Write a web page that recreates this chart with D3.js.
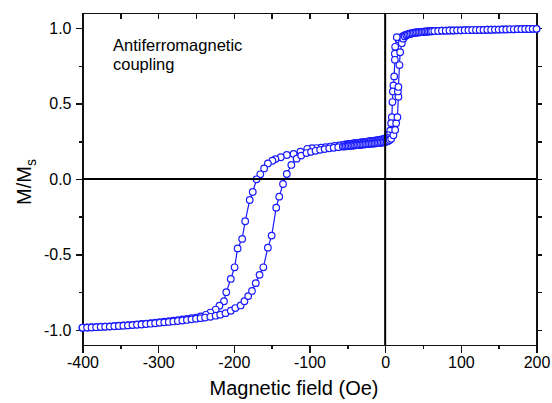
<!DOCTYPE html>
<html>
<head>
<meta charset="utf-8">
<title>AFM coupled hysteresis loop</title>
<script src="https://cdn.jsdelivr.net/npm/d3@7"></script>
<style>
body { margin: 0; background: #fff; }
svg { font-family: Arial, "Liberation Sans", sans-serif; }
.frame path, .frame line { stroke: #111; stroke-width: 1.5px; shape-rendering: crispEdges; }
.tick text { font-size: 16px; fill: #000; }
</style>
</head>
<body>
<script>
// descending branch, +200 Oe -> -400 Oe
var fieldDown = [200,195,190,185,180,175,170,165,160,155,150,145,140,135,130,125,120,115,110,105,100,95,90,85,80,75,70,65,
  62,60,58,56,54,52,50,48,46,44,42,40,38,36,34,32,30,28,26,24,22,20,18,
  15.4,13.2,12.8,12.8,11.9,10.9,10.2,9.6,8.8,7.9,6.6,4,
  2,0,-2,-4,-6,-8,-10,-12,-14,-16,-18,-20,-22,-24,-26,-28,-30,-32,-34,-36,-38,-40,-42,-44,-46,-48,-50,-52,-54,-56,
  -61,-67,-73,-79,-85,-91,-97,-103,-112,-121,-130,-138,-145,-149,-155,-160,-165,-170,-175,-179,-185,-189,-195,-199,-204,-210,-213,-219,-224,-231,-237,-244,
  -250,-256,-262,-268,-274,-280,-286,-292,-298,-304,-310,-316,-322,-328,-334,-340,-346,-352,-358,-364,-370,-376,-382,-388,-394,-400];
var momentDown = [0.995,0.995,0.994,0.994,0.993,0.993,0.992,0.992,0.991,0.991,0.990,0.990,0.989,0.989,0.988,0.988,0.987,0.987,0.986,0.986,0.985,0.985,0.984,0.984,0.983,0.983,0.982,0.981,
  0.980,0.980,0.979,0.978,0.978,0.977,0.976,0.975,0.974,0.973,0.972,0.971,0.969,0.967,0.965,0.963,0.960,0.957,0.953,0.948,0.942,0.935,0.925,
  0.94,0.876,0.83,0.79,0.68,0.62,0.58,0.51,0.41,0.37,0.32,0.29,
  0.275,0.268,0.265,0.263,0.261,0.259,0.257,0.256,0.254,0.253,0.252,0.250,0.249,0.248,0.246,0.245,0.244,0.242,0.241,0.240,0.238,0.237,0.236,0.234,0.233,0.232,0.230,0.229,0.228,0.226,
  0.223,0.219,0.215,0.211,0.207,0.205,0.204,0.200,0.181,0.166,0.159,0.144,0.132,0.121,0.103,0.070,0.031,-0.002,-0.086,-0.139,-0.28,-0.397,-0.46,-0.585,-0.662,-0.75,-0.81,-0.84,-0.865,-0.885,-0.90,-0.91,
  -0.918,-0.922,-0.927,-0.931,-0.935,-0.939,-0.942,-0.946,-0.949,-0.952,-0.955,-0.958,-0.961,-0.963,-0.966,-0.968,-0.970,-0.972,-0.974,-0.976,-0.978,-0.979,-0.981,-0.982,-0.984,-0.985];

// ascending branch, -400 Oe -> +200 Oe
var fieldUp = [-400,-394,-388,-382,-376,-370,-364,-358,-352,-346,-340,-334,-328,-322,-316,-310,-304,-298,-292,-286,-280,-274,-268,-262,-256,-250,-244,-238,-231,-224,-218,-211,-204,-198,-191,
  -186,-181,-176,-171,-166,-161,-155,-150,-144,-140,-135,-130,-124,-117,-111,-104,-98,-92,-86,-80,-74,-68,-62,-56,
  -54,-52,-50,-48,-46,-44,-42,-40,-38,-36,-34,-32,-30,-28,-26,-24,-22,-20,-18,-16,-14,-12,-10,-8,-6,-4,-2,0,2,4,6,8,
  10.9,13.2,14.5,16.2,17.5,16.8,17.5,18.9,19.8,22,24,26,28,
  30,32,34,36,38,40,42,44,46,48,50,52,54,56,58,60,62,
  65,70,75,80,85,90,95,100,105,110,115,120,125,130,135,140,145,150,155,160,165,170,175,180,185,190,195,200];
var momentUp = [-0.986,-0.985,-0.984,-0.982,-0.981,-0.979,-0.978,-0.976,-0.974,-0.972,-0.970,-0.968,-0.966,-0.964,-0.961,-0.959,-0.956,-0.953,-0.950,-0.947,-0.944,-0.941,-0.938,-0.934,-0.930,-0.926,-0.922,-0.918,-0.913,-0.906,-0.899,-0.889,-0.873,-0.855,-0.838,
  -0.81,-0.776,-0.742,-0.69,-0.635,-0.585,-0.455,-0.375,-0.19,-0.117,-0.033,0.033,0.093,0.135,0.155,0.172,0.180,0.187,0.193,0.198,0.203,0.207,0.211,0.215,
  0.216,0.217,0.218,0.219,0.220,0.221,0.222,0.223,0.224,0.225,0.226,0.227,0.228,0.229,0.230,0.231,0.232,0.233,0.234,0.235,0.236,0.237,0.238,0.239,0.240,0.242,0.243,0.245,0.248,0.252,0.258,0.266,
  0.29,0.325,0.37,0.41,0.545,0.58,0.61,0.755,0.84,0.90,0.93,0.945,0.952,
  0.957,0.960,0.963,0.965,0.967,0.969,0.970,0.971,0.972,0.973,0.974,0.975,0.976,0.977,0.978,0.978,0.979,
  0.980,0.981,0.983,0.983,0.984,0.984,0.985,0.985,0.986,0.986,0.987,0.987,0.988,0.988,0.989,0.989,0.990,0.990,0.991,0.991,0.992,0.992,0.993,0.993,0.994,0.994,0.995,0.995];

var xTicks = [-400, -300, -200, -100, 0, 100, 200];
var xMinor = [-350, -250, -150, -50, 50, 150];
var yTicks = [-1.0, -0.5, 0.0, 0.5, 1.0];
var yMinor = [-0.75, -0.25, 0.25, 0.75];

var width = 552, height = 403;
var margin = {top: 13, right: 15.5, bottom: 58, left: 82.5};
var w = width - margin.left - margin.right,
    h = height - margin.top - margin.bottom;

var svg = d3.select("body").append("svg")
    .attr("width", width)
    .attr("height", height);

var g = svg.append("g")
    .attr("transform", "translate(" + margin.left + "," + margin.top + ")");

var x = d3.scaleLinear().domain([-400, 200]).range([0, w]);
var y = d3.scaleLinear().domain([-1.1, 1.1]).range([h, 0]);

// bottom axis, ticks outward
g.append("g").attr("class", "frame")
    .attr("transform", "translate(0," + h + ")")
    .call(d3.axisBottom(x).tickValues(xTicks).tickSize(8).tickSizeOuter(0).tickPadding(4).tickFormat(function(d) { return String(d); }));
g.append("g").attr("class", "frame")
    .attr("transform", "translate(0," + h + ")")
    .call(d3.axisBottom(x).tickValues(xMinor).tickSize(4).tickSizeOuter(0).tickFormat(""));

// left axis
g.append("g").attr("class", "frame")
    .call(d3.axisLeft(y).tickValues(yTicks).tickSize(7).tickSizeOuter(0).tickPadding(4).tickFormat(function(d) { return d.toFixed(1); }));
g.append("g").attr("class", "frame")
    .call(d3.axisLeft(y).tickValues(yMinor).tickSize(4).tickSizeOuter(0).tickFormat(""));

// top axis, ticks point in
g.append("g").attr("class", "frame")
    .call(d3.axisTop(x).tickValues(xTicks.concat(xMinor)).tickSize(-6).tickSizeOuter(0).tickFormat(""));

// right axis, ticks out
g.append("g").attr("class", "frame")
    .attr("transform", "translate(" + w + ",0)")
    .call(d3.axisRight(y).tickValues(yTicks.concat(yMinor)).tickSize(5).tickSizeOuter(0).tickFormat(""));

g.selectAll(".tick text").style("font-size", "16px");

// data
var branches = [
    fieldDown.map(function(v, i) { return [v, momentDown[i]]; }),
    fieldUp.map(function(v, i) { return [v, momentUp[i]]; })
];

var line = d3.line()
    .x(function(d) { return x(d[0]); })
    .y(function(d) { return y(d[1]); });

branches.forEach(function(pts) {
    g.append("path")
        .datum(pts)
        .attr("d", line)
        .attr("fill", "none")
        .attr("stroke", "#1a1aff")
        .attr("stroke-width", 1.2);
});

branches.forEach(function(pts) {
    g.append("g").selectAll("circle")
        .data(pts)
        .enter().append("circle")
        .attr("cx", function(d) { return x(d[0]); })
        .attr("cy", function(d) { return y(d[1]); })
        .attr("r", 3.3)
        .attr("fill", "#fff")
        .attr("stroke", "#1a1aff")
        .attr("stroke-width", 1.2);
});

// zero lines
g.append("line")
    .attr("x1", x(0)).attr("x2", x(0))
    .attr("y1", 0).attr("y2", h)
    .attr("stroke", "#000").attr("stroke-width", 2);
g.append("line")
    .attr("x1", 0).attr("x2", w)
    .attr("y1", y(0)).attr("y2", y(0))
    .attr("stroke", "#000").attr("stroke-width", 2);

// labels
svg.append("text")
    .attr("x", 294)
    .attr("y", 395)
    .attr("text-anchor", "middle")
    .style("font-size", "20px")
    .style("fill", "#000")
    .text("Magnetic field (Oe)");

var yl = svg.append("text")
    .attr("transform", "translate(31,182) rotate(-90)")
    .attr("text-anchor", "middle")
    .style("font-size", "20px")
    .style("fill", "#000");
yl.append("tspan").text("M/M");
yl.append("tspan").attr("dy", 5).style("font-size", "14px").text("s");

var note = svg.append("text")
    .attr("x", 113)
    .attr("y", 51)
    .style("font-size", "16.5px")
    .style("fill", "#000");
note.append("tspan").attr("x", 113).text("Antiferromagnetic");
note.append("tspan").attr("x", 113).attr("dy", 19).text("coupling");
</script>
</body>
</html>
